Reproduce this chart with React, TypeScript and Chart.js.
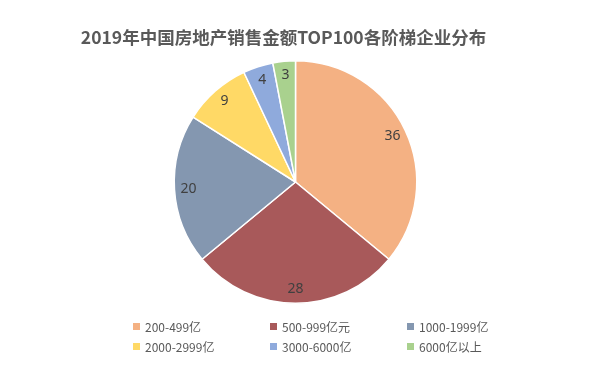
import React, { useEffect, useRef } from "react";
import { Chart, registerables } from "chart.js";

Chart.register(...registerables);

const title = "2019年中国房地产销售金额TOP100各阶梯企业分布";
const categories = ["200-499亿", "500-999亿元", "1000-1999亿", "2000-2999亿", "3000-6000亿", "6000亿以上"];
const values = [36, 28, 20, 9, 4, 3];
const colors = ["#F4B183", "#A8595A", "#8497B0", "#FFD966", "#8FAADC", "#A9D18E"];

const labelPlugin = {
  id: "insideEndLabels",
  afterDatasetsDraw(chart: any) {
    const ctx = chart.ctx;
    const meta = chart.getDatasetMeta(0);
    ctx.save();
    ctx.font = '14px "Noto Sans", "DejaVu Sans", sans-serif';
    ctx.fillStyle = "#404040";
    ctx.textAlign = "center";
    ctx.textBaseline = "middle";
    meta.data.forEach((arc: any, i: number) => {
      const p = arc.getProps(["x", "y", "startAngle", "endAngle", "outerRadius"], true);
      const a = (p.startAngle + p.endAngle) / 2;
      const r = p.outerRadius * 0.885;
      ctx.fillText(String(chart.data.datasets[0].data[i]), p.x + Math.cos(a) * r, p.y + Math.sin(a) * r);
    });
    ctx.restore();
  },
};

export default function App() {
  const ref = useRef<HTMLCanvasElement>(null);
  useEffect(() => {
    if (!ref.current) return;
    const chart = new Chart(ref.current, {
      type: "pie",
      data: {
        labels: categories,
        datasets: [
          {
            data: values,
            backgroundColor: colors,
            borderColor: "#ffffff",
            borderWidth: 1.5,
          },
        ],
      },
      options: {
        responsive: false,
        animation: false,
        layout: { padding: { left: 173, top: 60, right: 174, bottom: 73 } },
        plugins: {
          legend: { display: false },
          tooltip: { enabled: false },
          title: { display: false },
        },
      },
      plugins: [labelPlugin],
    });
    return () => chart.destroy();
  }, []);

  const legendCols = [133, 270, 407];
  const legendRows = [326, 346];

  return (
    <div style={{ position: "absolute", left: 0, top: 0, width: 592, height: 377, background: "#fff", overflow: "hidden" }}>
      <canvas ref={ref} width={592} height={377} style={{ position: "absolute", left: 0, top: 0, width: 592, height: 377 }} />
      <div
        style={{
          position: "absolute",
          left: 0,
          top: 25,
          width: 567,
          textAlign: "center",
          fontFamily: '"Noto Sans CJK SC", "Noto Sans", sans-serif',
          fontWeight: "bold",
          fontSize: 17.5,
          lineHeight: "24px",
          color: "#595959",
          whiteSpace: "nowrap",
        }}
      >
        {title}
      </div>
      {categories.map((c, i) => {
        const col = i % 3;
        const row = Math.floor(i / 3);
        return (
          <div
            key={c}
            style={{
              position: "absolute",
              left: legendCols[col],
              top: legendRows[row] - 8,
              height: 16,
              display: "flex",
              alignItems: "center",
              fontFamily: '"Noto Sans CJK SC", "Noto Sans", sans-serif',
              fontSize: 12,
              color: "#595959",
              whiteSpace: "nowrap",
            }}
          >
            <span style={{ display: "inline-block", width: 7, height: 7, background: colors[i], marginRight: 5 }} />
            {c}
          </div>
        );
      })}
    </div>
  );
}
